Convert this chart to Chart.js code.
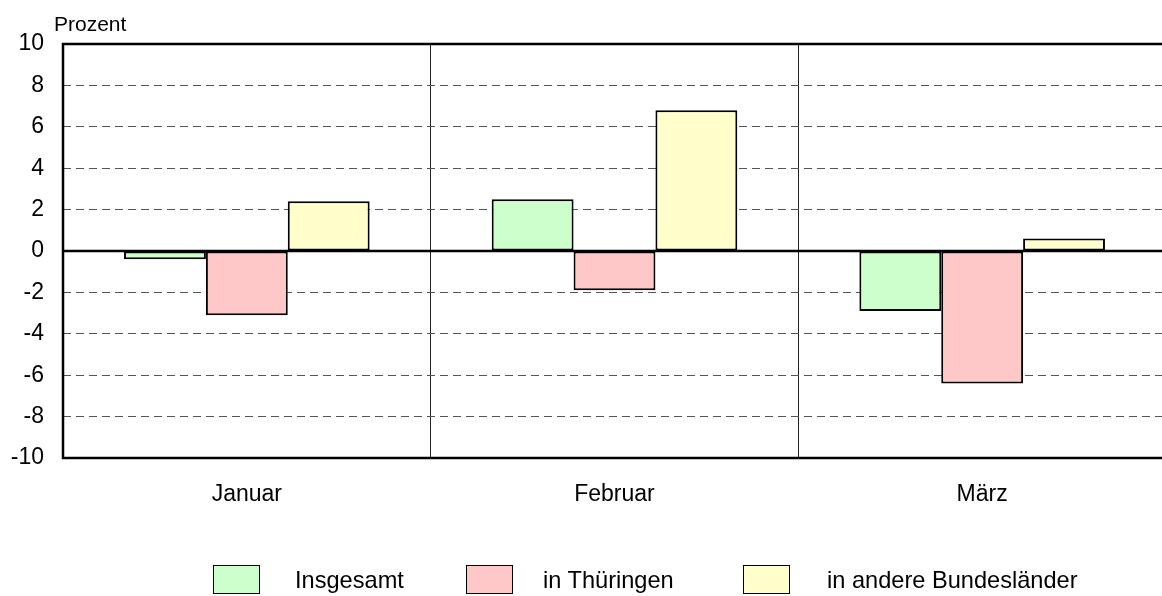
<!DOCTYPE html>
<html>
<head>
<meta charset="utf-8">
<script src="https://cdn.jsdelivr.net/npm/chart.js@4/dist/chart.umd.min.js"></script>
<style>
  html, body { margin: 0; padding: 0; background: #fff; }
  #wrap { position: relative; width: 1162px; height: 596px; overflow: hidden; font-family: "Liberation Sans", Arial, sans-serif; }
  #chart { position: absolute; left: 0; top: 0; }
  #unit { position: absolute; left: 54px; top: 12px; font-size: 21px; color: #000; }
  .box { position: absolute; top: 565px; width: 45px; height: 27px; border: 1px solid #000; }
  .lbl { position: absolute; top: 566px; font-size: 23.6px; line-height: 28px; color: #000; white-space: nowrap; }
</style>
</head>
<body>
<div id="wrap">
  <canvas id="chart" width="1200" height="596"></canvas>
  <div id="unit">Prozent</div>
</div>
<script>
const categories = ['Januar', 'Februar', 'März'];
const seriesNames = ['Insgesamt', 'in Thüringen', 'in andere Bundesländer'];
const insgesamt = [-0.4, 2.5, -2.9];
const thueringen = [-3.1, -1.9, -6.4];
const andere = [2.4, 6.8, 0.6];
const colors = ['#ccffcc', '#ffc8c8', '#ffffcc'];

// legend positions (box left, text left)
const legendBoxX = [213, 466, 743];
const legendTextX = [295, 543, 827];

const frame = {
  id: 'frame',
  afterDatasetsDraw(chart) {
    const { ctx, chartArea: a, scales } = chart;
    const y0 = scales.y.getPixelForValue(0);
    ctx.save();
    ctx.strokeStyle = '#000';
    ctx.lineWidth = 2.5;
    ctx.beginPath();
    ctx.moveTo(a.left, y0);
    ctx.lineTo(a.right, y0);
    ctx.stroke();
    ctx.strokeRect(a.left, a.top, a.right - a.left, a.bottom - a.top);
    ctx.restore();
  }
};

const data = [insgesamt, thueringen, andere];
new Chart(document.getElementById('chart'), {
  type: 'bar',
  data: {
    labels: categories,
    datasets: seriesNames.map((name, i) => ({
      label: name,
      data: data[i],
      backgroundColor: colors[i],
      borderColor: '#000',
      borderWidth: 2,
      borderSkipped: false,
      categoryPercentage: 0.668,
      barPercentage: 1
    }))
  },
  options: {
    responsive: false,
    animation: false,
    layout: { padding: { top: 44, right: 34, bottom: 38, left: 0 } },
    plugins: { legend: { display: false }, tooltip: { enabled: false } },
    scales: {
      x: {
        grid: { offset: true, color: '#222', lineWidth: 1, drawTicks: false },
        border: { display: false },
        ticks: { color: '#000', padding: 23, font: { family: 'Liberation Sans', size: 23 } },
        afterFit: s => { s.height = 100; }
      },
      y: {
        min: -10,
        max: 10,
        grid: { color: '#555', lineWidth: 1, drawTicks: false },
        border: { display: false, dash: [8, 5] },
        ticks: { stepSize: 2, color: '#000', padding: 19, font: { family: 'Liberation Sans', size: 23 } },
        afterFit: s => { s.width = 63; }
      }
    }
  },
  plugins: [frame]
});

const wrap = document.getElementById('wrap');
seriesNames.forEach((name, i) => {
  const b = document.createElement('div');
  b.className = 'box';
  b.style.left = legendBoxX[i] + 'px';
  b.style.background = colors[i];
  const t = document.createElement('div');
  t.className = 'lbl';
  t.style.left = legendTextX[i] + 'px';
  t.textContent = name;
  wrap.appendChild(b);
  wrap.appendChild(t);
});
</script>
</body>
</html>
